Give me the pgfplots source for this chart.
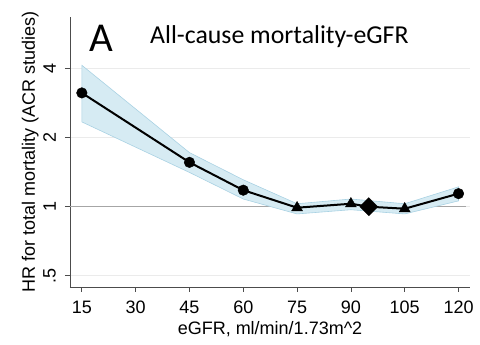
\documentclass[border=0pt]{standalone}
\usepackage{pgfplots}
\pgfplotsset{compat=1.18}
\usepackage{fontspec}
\setmainfont{Liberation Sans}
\newfontfamily\calibri{Carlito}
\definecolor{band}{HTML}{D6EBF3}
\definecolor{bandedge}{HTML}{A9D2E3}
\begin{document}
\begin{tikzpicture}
\begin{axis}[
 name=ax, scale only axis, width=400bp, height=270bp,
 xmin=11.7, xmax=123.2, ymode=log, ymin=0.447, ymax=6.7,
 axis x line*=bottom, axis y line*=left,
 axis line style={draw=black!70, line width=0.8pt},
 xtick={15,30,...,120}, ytick={0.5,1,2,4}, yticklabels={.5,1,2,4},
 tick align=outside, major tick length=5bp, tick style={black!70, line width=0.8pt},
 minor tick num=0,
 ymajorgrids, grid style={black!8, line width=0.8pt},
 /pgf/number format/assume math mode=true,
 ticklabel style={font=\fontsize{18bp}{20bp}\selectfont, inner sep=0pt},
 xticklabel style={anchor=north},
 xticklabel shift=8.5bp,
 yticklabel style={rotate=90, anchor=south},
 yticklabel shift=9bp,
 xlabel={eGFR, ml/min/1.73m\textasciicircum 2},
 ylabel={HR for total mortality (ACR studies)},
 label style={font=\fontsize{18bp}{20bp}\selectfont, inner sep=0pt},
 xlabel style={at={([yshift=-47bp]rel axis cs:0.5,0)}, anchor=base},
 ylabel style={at={([xshift=-35bp]rel axis cs:0,0.5)}, anchor=base},
 clip=false,
]
\addplot[black!35, line width=0.9pt, forget plot] coordinates {(11.7,1) (122,1)};
\addplot[fill=band, draw=bandedge, line width=0.6pt] coordinates {
 (15,4.13) (45,1.72) (60,1.31) (75,1.03) (90,1.08) (105,1.03) (120,1.22)
 (120,1.06) (105,0.93) (90,0.97) (75,0.93) (60,1.08) (45,1.41) (15,2.34)
} -- cycle;
\addplot[black, line width=2bp, mark=none] coordinates {
 (15,3.13) (45,1.56) (60,1.18) (75,0.99) (90,1.03) (95,1.0) (105,0.98) (120,1.14)
};
\addplot[only marks, black, mark=*, mark size=5.3bp] coordinates {
 (15,3.13) (45,1.56) (60,1.18) (120,1.14)
};
\addplot[only marks, black, mark=triangle*, mark size=6.3bp] coordinates {
 (75,0.99) (90,1.03) (105,0.98)
};
\addplot[only marks, black, mark=square*, mark size=6.4bp, mark options={rotate=45}] coordinates {
 (95,1.0)
};
\node[anchor=base west, inner sep=0pt, font=\calibri\fontsize{41bp}{44bp}\selectfont] at ([xshift=19bp,yshift=-35bp]rel axis cs:0,1) {A};
\node[anchor=base west, inner sep=0pt, font=\calibri\fontsize{25.8bp}{28bp}\selectfont] at ([xshift=80bp,yshift=-26.3bp]rel axis cs:0,1) {All-cause mortality-eGFR};
\end{axis}
\useasboundingbox ([xshift=-70bp,yshift=-58bp]ax.south west) rectangle ([xshift=10bp,yshift=17bp]ax.north east);
\end{tikzpicture}
\end{document}
